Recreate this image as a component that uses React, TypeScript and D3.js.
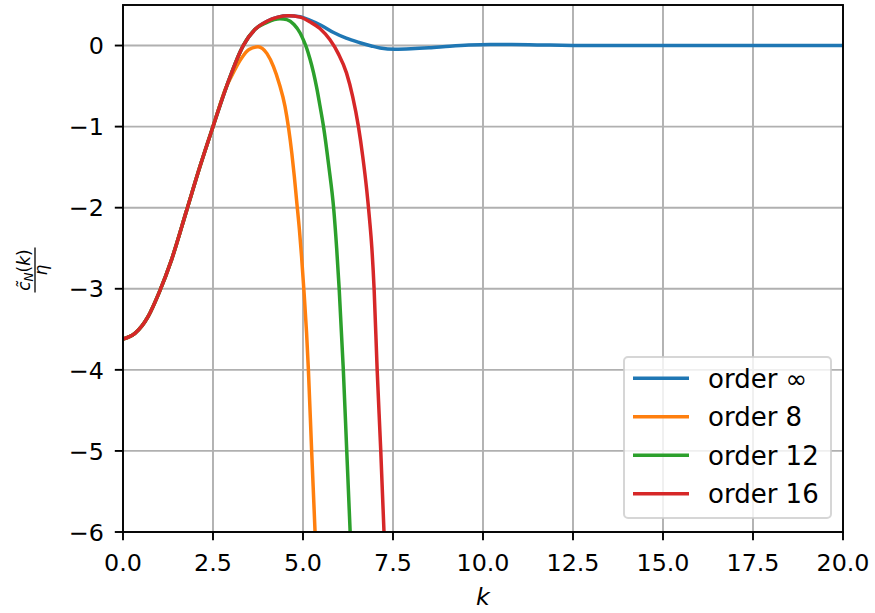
import React from "react";
import * as d3 from "d3";

// shared low-k part (all orders coincide)
const kBase = [0, 0.33, 0.7, 1.0, 1.35, 1.77, 2.14, 2.5, 2.88];
const vBase = [-3.62, -3.55, -3.34, -3.05, -2.64, -2.03, -1.49, -1.0, -0.5];

const kInf = [...kBase, 3.34, 3.67, 4.0, 4.3, 4.59, 4.92, 5.2, 5.5, 5.85, 6.2, 6.58, 6.9, 7.14, 7.56, 8.0, 8.5, 9.08, 9.6, 10.2, 10.8, 11.5, 12.5, 13.5, 15, 17.5, 20];
const vInf = [...vBase, 0.0, 0.2, 0.3, 0.35, 0.367, 0.355, 0.31, 0.25, 0.16, 0.09, 0.035, -0.005, -0.03, -0.045, -0.04, -0.028, -0.008, 0.006, 0.013, 0.012, 0.008, 0.002, 0.0, 0.0, 0.0, 0.0];

const k8 = [...kBase, 3.0, 3.3, 3.5, 3.75, 4.0, 4.18, 4.34, 4.5, 4.6, 4.69, 4.76, 4.82, 4.9, 4.96, 5.03, 5.1, 5.15, 5.24, 5.335, 5.42];
const v8 = [...vBase, -0.39, -0.15, -0.05, -0.015, -0.1, -0.26, -0.47, -0.75, -1.02, -1.33, -1.62, -1.9, -2.27, -2.6, -3.05, -3.55, -4.0, -5.0, -6.0, -7.0];

const k12 = [...kBase, 3.34, 3.67, 4.0, 4.2, 4.36, 4.55, 4.75, 4.92, 5.01, 5.1, 5.19, 5.29, 5.38, 5.47, 5.57, 5.72, 5.85, 5.935, 6.005, 6.12, 6.215, 6.31, 6.4];
const v12 = [...vBase, 0.0, 0.2, 0.285, 0.32, 0.33, 0.32, 0.26, 0.155, 0.07, -0.03, -0.16, -0.33, -0.52, -0.74, -1.0, -1.5, -2.0, -2.5, -3.0, -4.0, -5.0, -6.0, -7.0];

const k16 = [...kBase, 3.34, 3.67, 4.0, 4.3, 4.59, 4.92, 5.2, 5.47, 5.75, 5.98, 6.21, 6.38, 6.54, 6.66, 6.77, 6.85, 6.91, 6.975, 7.06, 7.16, 7.25, 7.33];
const v16 = [...vBase, 0.0, 0.2, 0.3, 0.35, 0.367, 0.35, 0.29, 0.21, 0.07, -0.1, -0.34, -0.63, -1.0, -1.37, -1.78, -2.15, -2.48, -3.0, -4.0, -5.0, -6.0, -7.0];

const seriesLabels = ["order \u221e", "order 8", "order 12", "order 16"];
const seriesColors = ["#1f77b4", "#ff7f0e", "#2ca02c", "#d62728"];
const seriesK = [kInf, k8, k12, k16];
const seriesV = [vInf, v8, v12, v16];

const xTicks = [0, 2.5, 5, 7.5, 10, 12.5, 15, 17.5, 20];
const yTicks = [0, -1, -2, -3, -4, -5, -6];

const W = 875;
const H = 613;
const L = 123, R = 843, T = 5, B = 532;
const FS = 23.8;
const LFS = 26;
const FONT = "DejaVu Sans";

export default function App() {
  const x = d3.scaleLinear().domain([0, 20]).range([L, R]);
  const y = d3.scaleLinear().domain([-6, 0.5]).range([B, T]);
  const line = d3
    .line<[number, number]>()
    .x((d) => x(d[0]))
    .y((d) => y(d[1]))
    .curve(d3.curveMonotoneX);

  const fmtX = (v: number) => v.toFixed(1);
  const fmtY = (v: number) => (v < 0 ? "\u2212" + Math.abs(v) : String(v));

  const legX = 624, legY = 357, legW = 207, legH = 161;
  const legRows = [378.3, 416.7, 455.3, 493.7];

  return (
    <svg
      width={W}
      height={H}
      style={{ position: "absolute", left: 0, top: 0, background: "#fff" }}
      fontFamily={FONT}
    >
      <defs>
        <clipPath id="plotclip">
          <rect x={L} y={T} width={R - L} height={B - T} />
        </clipPath>
      </defs>
      <rect x={0} y={0} width={W} height={H} fill="#fff" />
      {/* grid */}
      <g stroke="#b0b0b0" strokeWidth={1.9}>
        {xTicks.map((t) => (
          <line key={"gx" + t} x1={x(t)} x2={x(t)} y1={T} y2={B} />
        ))}
        {yTicks.map((t) => (
          <line key={"gy" + t} x1={L} x2={R} y1={y(t)} y2={y(t)} />
        ))}
      </g>
      {/* series */}
      <g clipPath="url(#plotclip)" fill="none" strokeWidth={3.5} strokeLinejoin="round">
        {seriesK.map((ks, i) => (
          <path
            key={"s" + i}
            d={line(ks.map((k, j) => [k, seriesV[i][j]] as [number, number])) || ""}
            stroke={seriesColors[i]}
          />
        ))}
      </g>
      {/* spines */}
      <rect x={L} y={T} width={R - L} height={B - T} fill="none" stroke="#000" strokeWidth={1.9} />
      {/* x ticks */}
      <g>
        {xTicks.map((t) => (
          <g key={"xt" + t}>
            <line x1={x(t)} x2={x(t)} y1={B} y2={B + 8.2} stroke="#000" strokeWidth={1.9} />
            <text x={x(t)} y={571} fontSize={FS} textAnchor="middle" fill="#000">
              {fmtX(t)}
            </text>
          </g>
        ))}
      </g>
      {/* y ticks */}
      <g>
        {yTicks.map((t) => (
          <g key={"yt" + t}>
            <line x1={L - 8.2} x2={L} y1={y(t)} y2={y(t)} stroke="#000" strokeWidth={1.9} />
            <text x={104} y={y(t) + 8.7} fontSize={FS} textAnchor="end" fill="#000">
              {fmtY(t)}
            </text>
          </g>
        ))}
      </g>
      {/* x label */}
      <text x={(L + R) / 2} y={605} fontSize={FS} textAnchor="middle" fontStyle="italic" fill="#000">
        k
      </text>
      {/* y label: fraction */}
      <g transform={`translate(35, 270) rotate(-90)`} fill="#000">
        <text x={0} y={-5} fontSize={17} textAnchor="middle">
          <tspan fontStyle="italic">{"c\u0303"}</tspan>
          <tspan fontStyle="italic" fontSize={12} dy={3}>N</tspan>
          <tspan dy={-3}>(</tspan>
          <tspan fontStyle="italic">k</tspan>
          <tspan>)</tspan>
        </text>
        <line x1={-22.5} x2={22.5} y1={0} y2={0} stroke="#000" strokeWidth={1.3} />
        <text x={0} y={12} fontSize={17} textAnchor="middle" fontStyle="italic">
          {"\u03b7"}
        </text>
      </g>
      {/* legend */}
      <rect
        x={legX}
        y={legY}
        width={legW}
        height={legH}
        rx={4}
        fill="#fff"
        fillOpacity={0.8}
        stroke="#cccccc"
        strokeOpacity={0.8}
        strokeWidth={2}
      />
      {seriesLabels.map((lab, i) => (
        <g key={"lg" + i}>
          <line x1={633} x2={689} y1={legRows[i]} y2={legRows[i]} stroke={seriesColors[i]} strokeWidth={3.5} />
          <text x={708} y={legRows[i] + 9.2} fontSize={LFS} fill="#000">
            {lab}
          </text>
        </g>
      ))}
    </svg>
  );
}
